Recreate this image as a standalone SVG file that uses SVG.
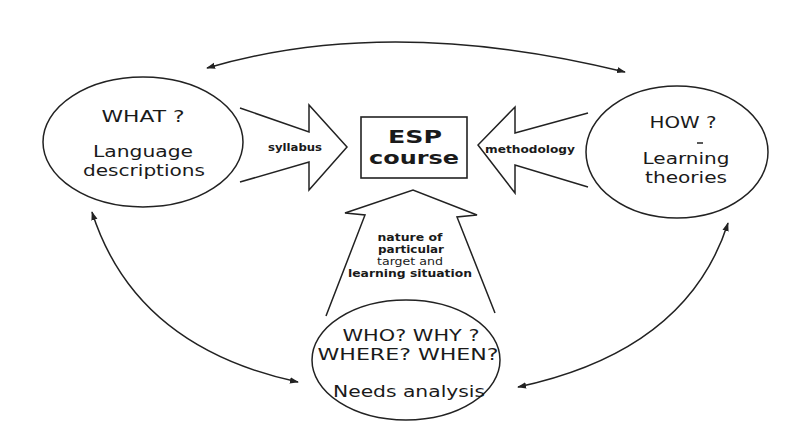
<svg xmlns="http://www.w3.org/2000/svg" width="810" height="429" viewBox="0 0 810 429">
<defs>
<marker id="ah" viewBox="0 0 10 10" refX="9" refY="5" markerWidth="9" markerHeight="9" markerUnits="userSpaceOnUse" orient="auto-start-reverse">
<path d="M0,1.5 L10,5 L0,8.5 Z" fill="#222"/>
</marker>
</defs>
<style>
.shape{fill:none;stroke:#222;stroke-width:1.5}
.box{fill:#fff;stroke:#222;stroke-width:1.6}
.conn{fill:none;stroke:#222;stroke-width:1.5;marker-start:url(#ah);marker-end:url(#ah)}
.big{font-family:"DejaVu Sans","Liberation Sans",sans-serif;font-size:16px;fill:#1a1a1a;text-anchor:middle}
.esp{font-family:"DejaVu Sans","Liberation Sans",sans-serif;font-weight:bold;font-size:18px;fill:#1a1a1a;text-anchor:middle}
.small{font-family:"DejaVu Sans","Liberation Sans",sans-serif;font-size:10px;fill:#1a1a1a;text-anchor:middle;font-weight:bold}
</style>
<rect width="810" height="429" fill="#fff"/>
<g id="connectors">
<path class="conn" d="M207,68 Q390,14 625,72"/>
<path class="conn" d="M92,212 Q135,347 298,382"/>
<path class="conn" d="M728,223 Q687,351 518,387"/>
</g>
<g id="what">
<ellipse class="shape" cx="143" cy="142" rx="100" ry="65"/>
<text class="big" x="143" y="122" textLength="83" lengthAdjust="spacingAndGlyphs">WHAT ?</text>
<text class="big" x="143" y="157" textLength="100" lengthAdjust="spacingAndGlyphs">Language</text>
<text class="big" x="144" y="176" textLength="122" lengthAdjust="spacingAndGlyphs">descriptions</text>
</g>
<g id="syllabus">
<path class="shape" d="M240,108 L309,132 L309,105 L347,147 L309,190 L309,162 L240,182"/>
<text class="small" x="295" y="151" textLength="54" lengthAdjust="spacingAndGlyphs">syllabus</text>
</g>
<g id="esp">
<rect class="box" x="361" y="117" width="106" height="61"/>
<text class="esp" x="415" y="143" textLength="54" lengthAdjust="spacingAndGlyphs">ESP</text>
<text class="esp" x="414" y="164" textLength="90" lengthAdjust="spacingAndGlyphs">course</text>
</g>
<g id="methodology">
<path class="shape" d="M588,113 L515,133 L515,107 L478,145 L515,193 L515,165 L588,187"/>
<text class="small" x="530" y="153" textLength="90" lengthAdjust="spacingAndGlyphs">methodology</text>
</g>
<g id="how">
<ellipse class="shape" cx="677" cy="152" rx="91" ry="66"/>
<text class="big" x="683" y="128" textLength="67" lengthAdjust="spacingAndGlyphs">HOW ?</text>
<line x1="697" y1="143" x2="703" y2="143" stroke="#222" stroke-width="1.5"/>
<text class="big" x="686" y="164" textLength="87" lengthAdjust="spacingAndGlyphs">Learning</text>
<text class="big" x="686" y="183" textLength="82" lengthAdjust="spacingAndGlyphs">theories</text>
</g>
<g id="nature">
<path class="shape" d="M326,316 L365,215 L345,213 L413,190 L477,215 L457,217 L495,313"/>
<text class="small" x="410" y="241" textLength="65" lengthAdjust="spacingAndGlyphs">nature of</text>
<text class="small" x="411" y="253" textLength="66" lengthAdjust="spacingAndGlyphs">particular</text>
<text class="small" x="410" y="265" textLength="66" lengthAdjust="spacingAndGlyphs" style="font-weight:normal">target and</text>
<text class="small" x="410" y="277" textLength="124" lengthAdjust="spacingAndGlyphs">learning situation</text>
</g>
<g id="who">
<ellipse class="shape" cx="406" cy="360" rx="94" ry="60"/>
<text class="big" x="411" y="341" textLength="137" lengthAdjust="spacingAndGlyphs">WHO? WHY ?</text>
<text class="big" x="408" y="360" textLength="181" lengthAdjust="spacingAndGlyphs">WHERE? WHEN?</text>
<text class="big" x="409" y="397" textLength="152" lengthAdjust="spacingAndGlyphs">Needs analysis</text>
</g>
</svg>
